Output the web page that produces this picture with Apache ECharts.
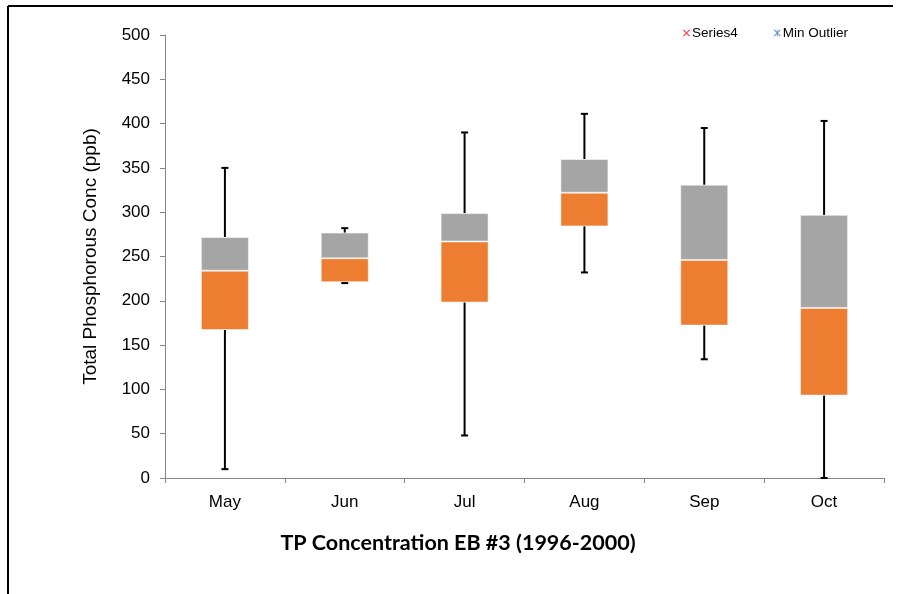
<!DOCTYPE html>
<html>
<head>
<meta charset="utf-8">
<script src="https://cdn.jsdelivr.net/npm/echarts@6/dist/echarts.min.js"></script>
<style>
    html, body { margin: 0; padding: 0; background: #fff; }
    #chart { width: 897px; height: 594px; }
</style>
</head>
<body>
<div id="chart"></div>
<script>
    var months = ['May', 'Jun', 'Jul', 'Aug', 'Sep', 'Oct'];
    var minVals = [10, 220, 48, 232, 134, 0];
    var q1Vals = [167, 221, 198, 284, 172, 93];
    var medianVals = [234, 248, 267, 322, 246, 192];
    var q3Vals = [272, 277, 299, 360, 331, 297];
    var maxVals = [350, 282, 390, 411, 395, 403];
    var yTicks = [0, 50, 100, 150, 200, 250, 300, 350, 400, 450, 500];

    var lowerBox = [], upperBox = [], whiskers = [];
    for (var i = 0; i < months.length; i++) {
        lowerBox.push(medianVals[i] - q1Vals[i]);
        upperBox.push(q3Vals[i] - medianVals[i]);
        whiskers.push([i, minVals[i], q1Vals[i], q3Vals[i], maxVals[i]]);
    }

    var xIcon = 'path://M0,1 L1,0 L5,4 L9,0 L10,1 L6,5 L10,9 L9,10 L5,6 L1,10 L0,9 L4,5 Z';
    var starIcon = xIcon + ' M4.4,0 L5.6,0 L5.6,10 L4.4,10 Z';

    var renderWhisker = function (params, api) {
        var x = api.value(0);
        var lo = api.coord([x, api.value(1)]);
        var b = api.coord([x, api.value(2)]);
        var t = api.coord([x, api.value(3)]);
        var hi = api.coord([x, api.value(4)]);
        var cap = 3.5;
        var style = { stroke: '#000', lineWidth: 2 };
        var line = function (x1, y1, x2, y2) {
            return { type: 'line', shape: { x1: x1, y1: y1, x2: x2, y2: y2 }, style: style };
        };
        return {
            type: 'group',
            children: [
                line(lo[0], lo[1], b[0], b[1]),
                line(lo[0] - cap, lo[1], lo[0] + cap, lo[1]),
                line(t[0], t[1], hi[0], hi[1]),
                line(hi[0] - cap, hi[1], hi[0] + cap, hi[1])
            ]
        };
    };

    var myChart = echarts.init(document.getElementById('chart'));
    myChart.setOption({
        backgroundColor: '#fff',
        animation: false,
        title: {
            text: 'TP Concentration EB #3 (1996-2000)',
            left: 453,
            textAlign: 'center',
            top: 527,
            textStyle: { fontFamily: 'Lato', fontWeight: 'bold', fontSize: 21.5, color: '#000' }
        },
        legend: {
            left: 678,
            top: 21,
            itemWidth: 7,
            itemHeight: 7,
            itemGap: 36,
            textStyle: { fontFamily: 'Liberation Sans', fontSize: 13.5, color: '#000', padding: [0, 0, 0, -3] },
            data: [
                { name: 'Series4', icon: xIcon },
                { name: 'Min Outlier', icon: starIcon }
            ]
        },
        grid: { left: 165, right: 13, top: 35, bottom: 116 },
        xAxis: {
            type: 'category',
            data: months,
            axisLine: { lineStyle: { color: '#868686' } },
            axisTick: { show: true, length: 5, lineStyle: { color: '#868686' } },
            axisLabel: { margin: 16, fontFamily: 'Liberation Sans', fontSize: 17, color: '#000' }
        },
        yAxis: {
            type: 'value',
            min: yTicks[0],
            max: yTicks[yTicks.length - 1],
            interval: 50,
            name: 'Total Phosphorous Conc (ppb)',
            nameLocation: 'middle',
            nameGap: 65,
            nameTextStyle: { fontFamily: 'Liberation Sans', fontSize: 19, color: '#000' },
            axisLine: { show: true, lineStyle: { color: '#868686' } },
            axisTick: { show: true, length: 5, lineStyle: { color: '#868686' } },
            axisLabel: { margin: 15, fontFamily: 'Liberation Sans', fontSize: 17, color: '#000' },
            splitLine: { show: false }
        },
        series: [{
            name: 'base',
            type: 'bar',
            stack: 'box',
            barWidth: 48,
            itemStyle: { color: 'transparent' },
            data: q1Vals
        }, {
            name: 'lower',
            type: 'bar',
            stack: 'box',
            barWidth: 48,
            itemStyle: { color: '#ED7D31', borderColor: 'rgba(255,255,255,0.5)', borderWidth: 1 },
            data: lowerBox
        }, {
            name: 'upper',
            type: 'bar',
            stack: 'box',
            barWidth: 48,
            itemStyle: { color: '#A5A5A5', borderColor: 'rgba(255,255,255,0.5)', borderWidth: 1 },
            data: upperBox
        }, {
            name: 'whisker',
            type: 'custom',
            renderItem: renderWhisker,
            encode: { x: 0, y: [1, 2, 3, 4] },
            data: whiskers,
            z: 3
        }, {
            name: 'Series4',
            type: 'scatter',
            itemStyle: { color: '#FF0000' },
            data: []
        }, {
            name: 'Min Outlier',
            type: 'scatter',
            itemStyle: { color: '#4472C4' },
            data: []
        }],
        graphic: [{
            type: 'line',
            shape: { x1: 8, y1: 6, x2: 893, y2: 6 },
            style: { stroke: '#000', lineWidth: 2 }
        }, {
            type: 'line',
            shape: { x1: 8, y1: 6, x2: 8, y2: 594 },
            style: { stroke: '#000', lineWidth: 2 }
        }]
    });
</script>
</body>
</html>
